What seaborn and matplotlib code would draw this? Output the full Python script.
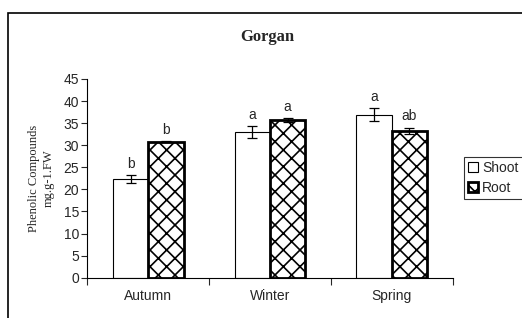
import pandas as pd
import numpy as np
import matplotlib
matplotlib.use("Agg")
import matplotlib.pyplot as plt
import seaborn as sns
from matplotlib.patches import Rectangle, Patch

seasons = ["Autumn", "Winter", "Spring"]
shoot = [22.3, 33.0, 36.9]
root = [30.8, 35.7, 33.2]
shoot_err = [0.9, 1.3, 1.5]
root_err = [0.15, 0.45, 0.75]
shoot_letters = ["b", "a", "a"]
root_letters = ["b", "a", "ab"]

df = pd.DataFrame({
    "Season": seasons * 2,
    "Part": ["Shoot"] * 3 + ["Root"] * 3,
    "Value": shoot + root,
})

sns.set_style("white")
plt.rcParams["font.family"] = ["Liberation Sans", "DejaVu Sans"]
plt.rcParams["hatch.linewidth"] = 1.2

fig = plt.figure(figsize=(5.22, 3.18), dpi=100)
ax = fig.add_axes([0.1673, 0.1267, 0.867 - 0.1673, 0.7516 - 0.1267])

sns.barplot(data=df, x="Season", y="Value", hue="Part", order=seasons,
            hue_order=["Shoot", "Root"], palette=["white", "white"],
            errorbar=None, width=0.58, ax=ax, legend=False)

bars = ax.patches
n = len(seasons)
for p in bars[:n]:
    p.set_edgecolor("black")
    p.set_linewidth(0.8)
for p in bars[n:2 * n]:
    p.set_edgecolor("black")
    p.set_linewidth(2.0)
    p.set_hatch("xx")

for group, errs, letters in [(bars[:n], shoot_err, shoot_letters),
                             (bars[n:2 * n], root_err, root_letters)]:
    for p, e, lab in zip(group, errs, letters):
        xc = p.get_x() + p.get_width() / 2
        h = p.get_height()
        ax.errorbar(xc, h, yerr=e, fmt="none", ecolor="black",
                    elinewidth=0.9, capsize=3.5, capthick=0.9)
        ax.text(xc, h + e + 1.0, lab, ha="center", va="bottom", fontsize=10)

ax.set_ylim(0, 45)
ax.set_xlim(-0.5, 2.5)
ax.set_yticks(np.arange(0, 50, 5))
ax.set_xticks([0, 1, 2])
ax.set_xticks([-0.5, 0.5, 1.5, 2.5], minor=True)
ax.tick_params(axis="x", which="major", length=0, labelsize=10, pad=8)
ax.tick_params(axis="x", which="minor", length=5, width=0.8, direction="out", bottom=True)
ax.tick_params(axis="y", length=4, width=0.8, direction="out", left=True, labelsize=10, pad=2)
for s in ["top", "right"]:
    ax.spines[s].set_visible(False)
for s in ["left", "bottom"]:
    ax.spines[s].set_color("black")
    ax.spines[s].set_linewidth(0.8)
ax.set_xlabel("")
ax.set_ylabel("Phenolic Compounds\nmg.g-1.FW", family="Liberation Serif",
              fontsize=9, labelpad=6, linespacing=1.35)

fig.text(0.513, 0.885, "Gorgan", ha="center", va="center",
         family="Liberation Serif", fontweight="bold", fontsize=12)

handles = [Patch(facecolor="white", edgecolor="black", linewidth=0.8, label="Shoot"),
           Patch(facecolor="white", edgecolor="black", linewidth=2.0, hatch="xx", label="Root")]
leg = fig.legend(handles=handles, loc="upper left", bbox_to_anchor=(464 / 522, 1 - 157 / 318),
                 frameon=True, fancybox=False, fontsize=10, handlelength=0.7,
                 handleheight=0.7, handletextpad=0.3, borderpad=0.3, labelspacing=0.4,
                 borderaxespad=0)
leg.get_frame().set_edgecolor("black")
leg.get_frame().set_linewidth(0.8)

fig.patches.append(Rectangle((8 / 522, -0.2), 2, 1.2 - 13 / 318,
                             transform=fig.transFigure, fill=False,
                             edgecolor="black", linewidth=1.2))

fig.savefig("out.png", dpi=100)
